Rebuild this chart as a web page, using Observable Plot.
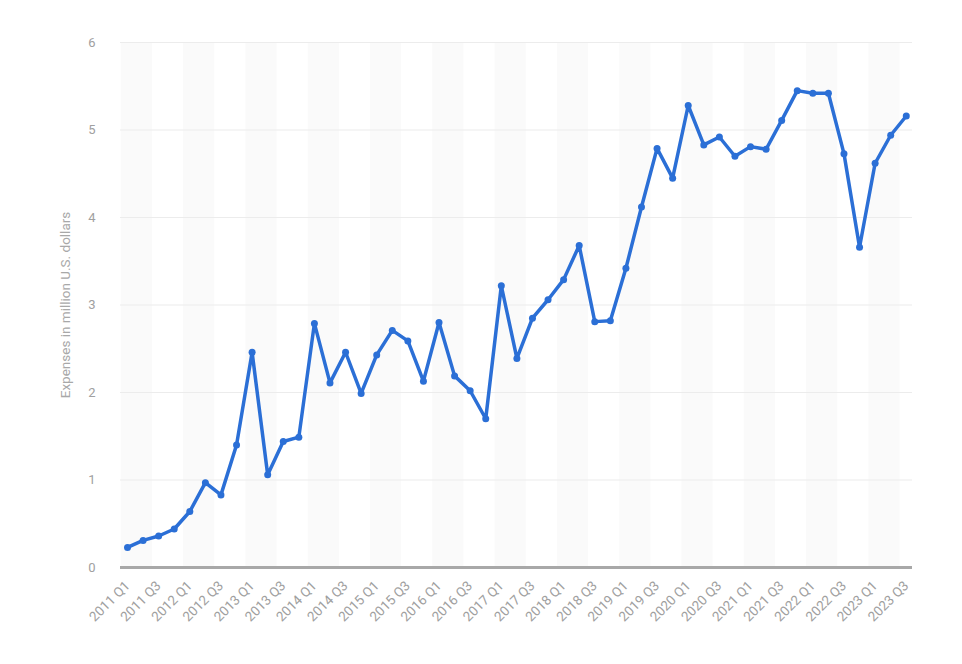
<!DOCTYPE html>
<html>
<head>
<meta charset="utf-8">
<script src="https://cdn.jsdelivr.net/npm/d3@7"></script>
<script src="https://cdn.jsdelivr.net/npm/@observablehq/plot@0.6"></script>
<style>
  html, body { margin: 0; padding: 0; background: #fff; }
  #chart { width: 962px; height: 664px; }
</style>
</head>
<body>
<div id="chart"></div>
<script>
const quarters = [];
for (let y = 2011; y <= 2023; y++) for (let q = 1; q <= 4; q++) {
  if (y === 2023 && q > 3) break;
  quarters.push(`${y} Q${q}`);
}
const expenses = [
  0.23, 0.31, 0.36, 0.44,
  0.64, 0.97, 0.83, 1.40,
  2.46, 1.06, 1.44, 1.49,
  2.79, 2.11, 2.46, 1.99,
  2.43, 2.71, 2.59, 2.13,
  2.80, 2.19, 2.02, 1.70,
  3.22, 2.39, 2.85, 3.06,
  3.29, 3.68, 2.81, 2.82,
  3.42, 4.12, 4.79, 4.45,
  5.28, 4.83, 4.92, 4.70,
  4.81, 4.78, 5.11, 5.45,
  5.42, 5.42, 4.73, 3.66,
  4.62, 4.94, 5.16
];
const yTicks = [0, 1, 2, 3, 4, 5, 6];
const yLabel = "Expenses in million U.S. dollars";

const data = quarters.map((q, i) => ({i, q, v: expenses[i]}));
const tickIdx = quarters.map((q, i) => i).filter(i => i % 2 === 0);
const stripes = d3.range(0, 13).map(k => ({x1: 4 * k - 0.4, x2: Math.min(4 * k + 1.6, 50.4)}));
const grid = yTicks.filter(t => t > 0);

const plot = Plot.plot({
  width: 962,
  height: 664,
  marginLeft: 120,
  marginRight: 50,
  marginTop: 42,
  marginBottom: 97,
  style: {fontFamily: "Roboto, 'Open Sans', sans-serif", background: "#fff"},
  x: {type: "linear", domain: [-0.45, 50.4]},
  y: {domain: [0, 6]},
  marks: [
    Plot.rect(stripes, {x1: "x1", x2: "x2", y1: 0, y2: 6, fill: "#fafafa"}),
    Plot.ruleY(grid, {stroke: "#ececec", strokeWidth: 1.2}),
    Plot.ruleY([0], {stroke: "#a8a8a8", strokeWidth: 3}),
    Plot.axisY(yTicks, {tickSize: 0, tickPadding: 25, label: null, fontSize: 13, fill: "#a0a0a0", tickFormat: d => String(d)}),
    Plot.axisX(tickIdx, {
      tickSize: 0, tickPadding: 16, tickRotate: -45, label: null,
      tickFormat: i => quarters[i], fontSize: 13.5, fill: "#a0a0a0"
    }),
    Plot.text([yLabel], {frameAnchor: "left", textAnchor: "middle", dx: -55, rotate: -90, fontSize: 13.5, fill: "#a8a8a8"}),
    Plot.line(data, {x: "i", y: "v", stroke: "#2b6fd6", strokeWidth: 3.5, strokeLinejoin: "round"}),
    Plot.dot(data, {x: "i", y: "v", r: 3.5, fill: "#2b6fd6"})
  ]
});
document.getElementById("chart").appendChild(plot);
</script>
</body>
</html>
